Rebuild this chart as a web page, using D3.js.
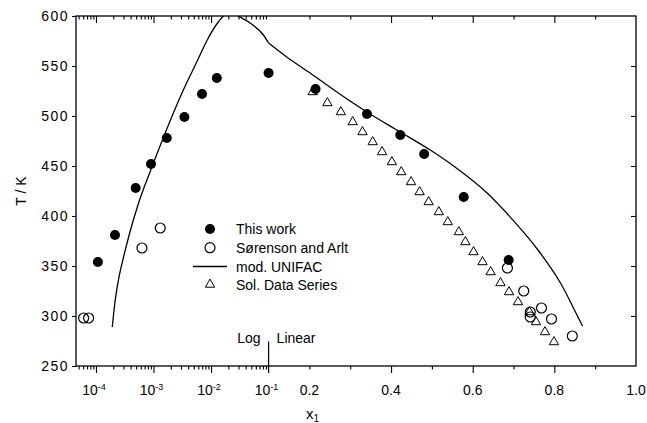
<!DOCTYPE html>
<html>
<head>
<meta charset="utf-8">
<script src="https://cdn.jsdelivr.net/npm/d3@7"></script>
<style>
  body { margin: 0; background: #fff; }
  text { font-family: "Liberation Sans", Arial, sans-serif; fill: #000; }
</style>
</head>
<body>
<div id="chart"></div>
<script>
// data
const thisWorkX = [1.08e-4, 2.14e-4, 4.9e-4, 9.06e-4, 1.7e-3, 3.44e-3, 6.97e-3, 1.26e-2, 0.1, 0.215, 0.341, 0.4225, 0.481, 0.578, 0.688];
const thisWorkT = [354, 381, 428, 452, 478, 499, 522, 538, 543, 527, 502, 481, 462, 419, 356];

const sorensonX = [6.1e-5, 7.46e-5, 6.3e-4, 1.31e-3, 0.685, 0.725, 0.741, 0.741, 0.7685, 0.793, 0.844];
const sorensonT = [298, 298, 368, 388, 348, 325, 304, 299, 308, 297, 280];

const solX = [0.208, 0.244, 0.277, 0.306, 0.330, 0.355, 0.378, 0.402, 0.425, 0.449, 0.470, 0.492, 0.517,
              0.539, 0.566, 0.582, 0.602, 0.624, 0.644, 0.668, 0.689, 0.711, 0.739, 0.755, 0.777, 0.799];
const solT = [524, 513, 504, 494, 484, 474, 464, 454, 444, 434, 424, 414, 404,
              394, 384, 374, 364, 354, 344, 333, 324, 314, 304, 294, 284, 274];

const unifacX = [1.92e-4, 2.14e-4, 2.44e-4, 2.99e-4, 3.90e-4, 5.44e-4, 8.69e-4, 1.30e-3, 1.94e-3, 3.30e-3,
                 5.64e-3, 8.41e-3, 1.26e-2, 1.64e-2, 2.23e-2, 2.99e-2, 4.77e-2, 8.12e-2, 0.1,
                 0.1444, 0.2016, 0.2671, 0.3407, 0.4225, 0.496, 0.5533, 0.6352, 0.7005, 0.758, 0.815, 0.864, 0.869];
const unifacT = [289, 314, 335, 358, 384, 412, 444, 470, 495, 526,
                 554, 575, 592, 600, 605, 600, 593, 581, 573,
                 559, 543, 524, 504, 484, 466, 450, 423, 395, 367, 333, 294, 290];

const logMajor = [1e-4, 1e-3, 1e-2, 1e-1];
const logMajorLabels = ["-4", "-3", "-2", "-1"];
const linLabeled = [0.2, 0.4, 0.6, 0.8, 1.0];
const linMinor = [0.3, 0.5, 0.7, 0.9];
const yTicks = [250, 300, 350, 400, 450, 500, 550, 600];

const legendLabels = ["This work", "Sørenson and Arlt", "mod. UNIFAC", "Sol. Data Series"];

// set the dimensions and margins of the graph
const margin = { top: 16, right: 11, bottom: 57, left: 76 },
    width = 647 - margin.left - margin.right,
    height = 423 - margin.top - margin.bottom;
const breakX = 192.6;   // where log part ends and linear part starts

const svg = d3.select("#chart")
    .append("svg")
    .attr("width", 647)
    .attr("height", 423)
    .append("g")
    .attr("transform", `translate(${margin.left}, ${margin.top})`);

const xLog = d3.scaleLog().domain([4.5e-5, 0.1]).range([0, breakX]);
const xLin = d3.scaleLinear().domain([0.1, 1.0]).range([breakX, width]);
const x = v => v <= 0.1 ? xLog(v) : xLin(v);
const y = d3.scaleLinear().domain([250, 600]).range([height, 0]);

// minor log ticks 2..9 per decade
const logMinor = [];
[1e-5, 1e-4, 1e-3, 1e-2].forEach(d => {
    for (let k = 2; k <= 9; k++) {
        const v = k * d;
        if (v >= 4.5e-5 && v < 0.1) logMinor.push(v);
    }
});

function strip(g) {
    g.select(".domain").remove();
    g.selectAll("line").attr("stroke", "#000").attr("stroke-width", 1.1);
}

// bottom axis (ticks outward)
svg.append("g").attr("transform", `translate(0, ${height})`)
    .call(d3.axisBottom(xLog).tickValues(logMinor).tickSize(3.5).tickFormat("")).call(strip);
svg.append("g").attr("transform", `translate(0, ${height})`)
    .call(d3.axisBottom(xLog).tickValues(logMajor.slice(0, 3)).tickSize(7).tickFormat("")).call(strip);
svg.append("g").attr("transform", `translate(0, ${height})`)
    .call(d3.axisBottom(xLin).tickValues(linMinor.concat([0.2])).tickSize(3.5).tickFormat("")).call(strip);
svg.append("g").attr("transform", `translate(0, ${height})`)
    .call(d3.axisBottom(xLin).tickValues([0.4, 0.6, 0.8]).tickSize(7).tickFormat("")).call(strip);

// top axis (ticks inward)
svg.append("g")
    .call(d3.axisTop(xLog).tickValues(logMinor).tickSize(-3.5).tickFormat("")).call(strip);
svg.append("g")
    .call(d3.axisTop(xLog).tickValues(logMajor.slice(0, 3)).tickSize(-7).tickFormat("")).call(strip);
svg.append("g")
    .call(d3.axisTop(xLin).tickValues(linMinor.concat([0.2])).tickSize(-3.5).tickFormat("")).call(strip);
svg.append("g")
    .call(d3.axisTop(xLin).tickValues([0.4, 0.6, 0.8]).tickSize(-7).tickFormat("")).call(strip);

// x tick labels
const logLab = svg.append("g").selectAll("text")
    .data(logMajor)
    .join("text")
    .attr("x", d => xLog(d) - 2)
    .attr("y", height + 29)
    .attr("text-anchor", "middle")
    .style("font-size", "14px");
logLab.append("tspan").text("10");
logLab.append("tspan").attr("dy", -5).style("font-size", "9px").text((d, i) => logMajorLabels[i]);

svg.append("g").selectAll("text")
    .data(linLabeled)
    .join("text")
    .attr("x", d => xLin(d))
    .attr("y", height + 29)
    .attr("text-anchor", "middle")
    .style("font-size", "14px")
    .text(d => d3.format(".1f")(d));

// left axis
svg.append("g")
    .call(d3.axisLeft(y).tickValues(yTicks).tickSize(4).tickPadding(3))
    .call(strip)
    .selectAll("text")
    .style("font-size", "14px")
    .style("letter-spacing", "1.5px")
    .style("font-family", "'Liberation Sans', Arial, sans-serif");

// right axis (ticks inward)
svg.append("g").attr("transform", `translate(${width}, 0)`)
    .call(d3.axisRight(y).tickValues(yTicks.slice(1, -1)).tickSize(-5).tickFormat(""))
    .call(strip);

// frame
svg.append("rect")
    .attr("width", width).attr("height", height)
    .attr("fill", "none").attr("stroke", "#000").attr("stroke-width", 1.3);

// log / linear divider
svg.append("line")
    .attr("x1", breakX).attr("x2", breakX)
    .attr("y1", height - 24.5).attr("y2", height + 7)
    .attr("stroke", "#000").attr("stroke-width", 1.2);
svg.append("text").attr("x", breakX - 8).attr("y", height - 23)
    .attr("text-anchor", "end").style("font-size", "14px").text("Log");
svg.append("text").attr("x", breakX + 8).attr("y", height - 23)
    .style("font-size", "14px").text("Linear");

// axis titles
svg.append("text")
    .attr("transform", `translate(-50, ${height / 2}) rotate(-90)`)
    .attr("text-anchor", "middle")
    .style("font-size", "14px")
    .text("T / K");
const xt = svg.append("text")
    .attr("x", 230).attr("y", height + 53)
    .style("font-size", "15px");
xt.append("tspan").text("x");
xt.append("tspan").attr("dy", 3).style("font-size", "10px").text("1");

// clip for the curve
svg.append("clipPath").attr("id", "clip")
    .append("rect").attr("width", width).attr("height", height);

const curvePts = unifacX.map((v, i) => [v, unifacT[i]]);
const line = d3.line().x(d => x(d[0])).y(d => y(d[1])).curve(d3.curveMonotoneX);
const plot = svg.append("g").attr("clip-path", "url(#clip)");
plot.append("path")
    .datum(curvePts.filter(d => d[0] <= 0.1))
    .attr("d", line)
    .attr("fill", "none").attr("stroke", "#000").attr("stroke-width", 1.3);
plot.append("path")
    .datum(curvePts.filter(d => d[0] >= 0.1))
    .attr("d", line)
    .attr("fill", "none").attr("stroke", "#000").attr("stroke-width", 1.3);

// triangles
const tri = d3.symbol().type(d3.symbolTriangle).size(38);
svg.append("g").selectAll("path")
    .data(solX.map((v, i) => [v, solT[i]]))
    .join("path")
    .attr("transform", d => `translate(${x(d[0])}, ${y(d[1])})`)
    .attr("d", tri)
    .attr("fill", "#fff").attr("stroke", "#000").attr("stroke-width", 1);

// open circles
svg.append("g").selectAll("circle")
    .data(sorensonX.map((v, i) => [v, sorensonT[i]]))
    .join("circle")
    .attr("cx", d => x(d[0])).attr("cy", d => y(d[1]))
    .attr("r", 5)
    .attr("fill", "none").attr("stroke", "#000").attr("stroke-width", 1.2);

// filled circles
svg.append("g").selectAll("circle")
    .data(thisWorkX.map((v, i) => [v, thisWorkT[i]]))
    .join("circle")
    .attr("cx", d => x(d[0])).attr("cy", d => y(d[1]))
    .attr("r", 5)
    .attr("fill", "#000");

// legend
const lg = svg.append("g").attr("transform", "translate(134, 213)");
const rowY = [0, 18.7, 37.5, 55.5];
lg.append("circle").attr("cx", 0).attr("cy", rowY[0]).attr("r", 5).attr("fill", "#000");
lg.append("circle").attr("cx", 0).attr("cy", rowY[1]).attr("r", 5)
    .attr("fill", "none").attr("stroke", "#000").attr("stroke-width", 1.2);
lg.append("line").attr("x1", -17).attr("x2", 17).attr("y1", rowY[2]).attr("y2", rowY[2])
    .attr("stroke", "#000").attr("stroke-width", 1.3);
lg.append("path").attr("transform", `translate(0, ${rowY[3]})`).attr("d", tri)
    .attr("fill", "#fff").attr("stroke", "#000").attr("stroke-width", 1);
lg.selectAll("text.lab")
    .data(legendLabels)
    .join("text")
    .attr("class", "lab")
    .attr("x", 26)
    .attr("y", (d, i) => rowY[i] + 5)
    .style("font-size", "14px")
    .text(d => d);
</script>
</body>
</html>
